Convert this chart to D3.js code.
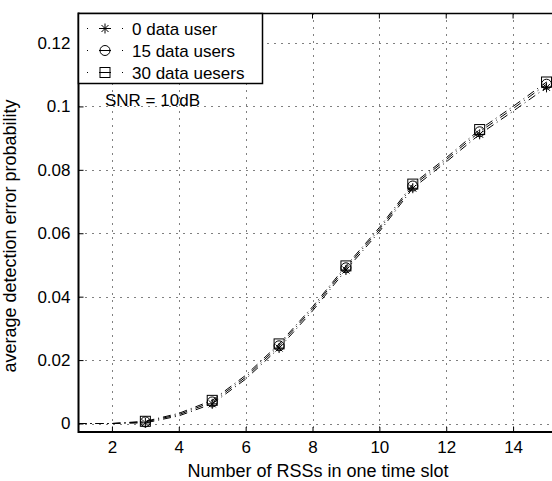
<!DOCTYPE html>
<html><head><meta charset="utf-8">
<script src="https://cdn.jsdelivr.net/npm/d3@7"></script>
<style>body{margin:0;background:#fff}svg{display:block}text{font-family:"Liberation Sans",Arial,sans-serif;fill:#000}</style>
</head><body><svg id="c" width="552" height="481"></svg>
<script>
const xValues = [1,2,3,4,5,6,7,8,9,10,11,12,13,14,15];
const series0 = [0,0,0.0002,0.0024,0.0062,0.0140,0.0238,0.0355,0.0484,0.0605,0.0742,0.0825,0.0912,0.0985,0.1060];
const series15 = [0,0,0.0005,0.0028,0.0068,0.0146,0.0245,0.0362,0.0491,0.0612,0.0749,0.0832,0.0920,0.0993,0.1070];
const series30 = [0,0,0.0007,0.0032,0.0073,0.0152,0.0251,0.0368,0.0497,0.0618,0.0755,0.0838,0.0927,0.1000,0.1077];
const markerX = [3,5,7,9,11,13,15];
const seriesNames = ["0 data user","15 data users","30 data uesers"];
const seriesMarkers = ["star","circle","square"];
const xTicks = [2,4,6,8,10,12,14];
const yTicks = [0,0.02,0.04,0.06,0.08,0.1,0.12];

const svg = d3.select("#c");
const L=78.5, T=13.5, B=432;
const x = d3.scaleLinear().domain([1,16]).range([L, L+15*33.43]);
const y = d3.scaleLinear().domain([-0.00268,0.1293]).range([B,T]);

// grid
const g = svg.append("g");
g.selectAll("line.vg").data(xTicks).join("line")
  .attr("x1",d=>Math.round(x(d))+0.5).attr("x2",d=>Math.round(x(d))+0.5).attr("y1",T).attr("y2",B)
  .attr("stroke","#000").attr("stroke-width",1).attr("stroke-dasharray","1,6");
g.selectAll("line.hg").data(yTicks).join("line")
  .attr("y1",d=>Math.round(y(d))+0.5).attr("y2",d=>Math.round(y(d))+0.5).attr("x1",L).attr("x2",552)
  .attr("stroke","#000").attr("stroke-width",1).attr("stroke-dasharray","1,6");

// axes
const xAxis = d3.axisBottom(x).tickValues(xTicks).tickSize(-5).tickPadding(9).tickFormat(d3.format("d"));
const gx = svg.append("g").attr("transform",`translate(0,${B})`).call(xAxis);
gx.select(".domain").remove();
gx.selectAll("text").style("font-size","17px").style("font-family","Liberation Sans, Arial, sans-serif");
gx.selectAll("line").attr("stroke","#000");
const yAxis = d3.axisLeft(y).tickValues(yTicks).tickSize(-5).tickPadding(8).tickFormat(d=>d===0?"0":String(d));
const gy = svg.append("g").attr("transform",`translate(${L},0)`).call(yAxis);
gy.select(".domain").remove();
gy.selectAll("text").style("font-size","17px").style("font-family","Liberation Sans, Arial, sans-serif");
gy.selectAll("line").attr("stroke","#000");
// top ticks
svg.append("g").selectAll("line").data(xTicks).join("line")
  .attr("x1",d=>x(d)).attr("x2",d=>x(d)).attr("y1",T).attr("y2",T+5).attr("stroke","#000");

// border
svg.append("line").attr("x1",L).attr("x2",552).attr("y1",B).attr("y2",B).attr("stroke","#000").attr("stroke-width",2);
svg.append("line").attr("x1",L).attr("x2",L).attr("y1",T-1).attr("y2",B+1).attr("stroke","#000").attr("stroke-width",2);
svg.append("line").attr("x1",L).attr("x2",552).attr("y1",T).attr("y2",T).attr("stroke","#000").attr("stroke-width",1.5);

// lines
const allSeries = [series0, series15, series30];
const line = d3.line().x((d,i)=>x(xValues[i])).y(d=>y(d));
allSeries.forEach((s,k)=>{
  svg.append("path").datum(s).attr("d",line).attr("fill","none").attr("stroke","#000")
    .attr("stroke-width",1).attr("stroke-dasharray","8,4,1,4");
});

function drawMarker(sel, type, cx, cy){
  if(type==="star"){
    const r=5;
    const p=`M${cx-r},${cy}L${cx+r},${cy}M${cx},${cy-r}L${cx},${cy+r}M${cx-r*0.7},${cy-r*0.7}L${cx+r*0.7},${cy+r*0.7}M${cx-r*0.7},${cy+r*0.7}L${cx+r*0.7},${cy-r*0.7}`;
    sel.append("path").attr("d",p).attr("stroke","#000").attr("stroke-width",1).attr("fill","none");
  } else if(type==="circle"){
    sel.append("circle").attr("cx",cx).attr("cy",cy).attr("r",5).attr("fill","none").attr("stroke","#000").attr("stroke-width",1);
  } else {
    sel.append("rect").attr("x",cx-5).attr("y",cy-5).attr("width",10).attr("height",10).attr("fill","none").attr("stroke","#000").attr("stroke-width",1);
  }
}
allSeries.forEach((s,k)=>{
  const mg = svg.append("g");
  markerX.forEach(mx=>{
    const i = xValues.indexOf(mx);
    drawMarker(mg, seriesMarkers[k], x(mx), y(s[i]));
  });
});

// legend
const lg = svg.append("g");
lg.append("rect").attr("x",L).attr("y",T).attr("width",184).attr("height",70).attr("fill","#fff").attr("stroke","#000").attr("stroke-width",1.5);
seriesNames.forEach((n,k)=>{
  const ly = 28.5 + k*22;
  lg.append("line").attr("x1",87).attr("x2",123).attr("y1",ly).attr("y2",ly).attr("stroke","#000")
    .attr("stroke-dasharray","1,11,12,11,1").attr("stroke-width",1);
  drawMarker(lg, seriesMarkers[k], 105, ly);
  lg.append("text").attr("x",132).attr("y",ly+6).style("font-size","17px").text(n);
});

svg.append("text").attr("x",318).attr("y",106).attr("x",105).style("font-size","17px").text("SNR = 10dB");
svg.append("text").attr("x",318).attr("y",477).attr("text-anchor","middle").style("font-size","18px").text("Number of RSSs in one time slot");
svg.append("text").attr("transform","translate(16,236) rotate(-90)").attr("text-anchor","middle").style("font-size","18px").text("average detection error probability");
</script></body></html>
